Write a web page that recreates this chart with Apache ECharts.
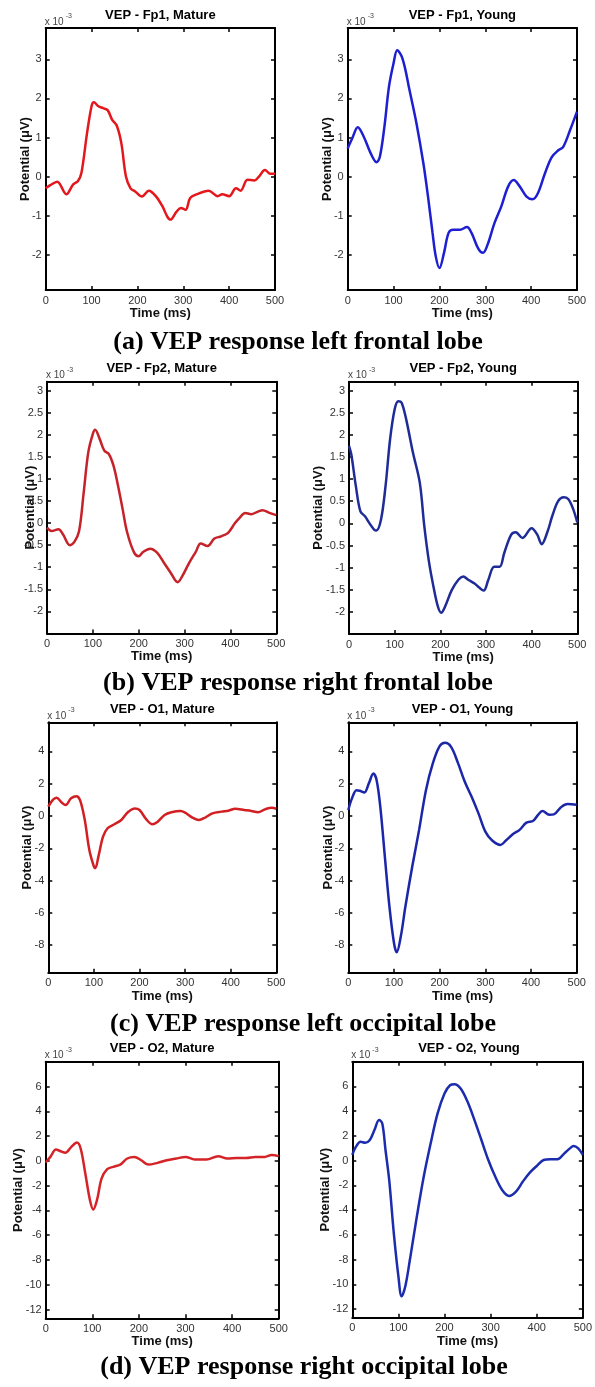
<!DOCTYPE html>
<html>
<head>
<meta charset="utf-8">
<script src="https://cdn.jsdelivr.net/npm/echarts@6/dist/echarts.min.js"></script>
<style>
html,body{margin:0;padding:0;background:#fff;}
#chart{width:595px;height:1387px;}
</style>
</head>
<body>
<div id="chart"></div>
<script>
// ---------- data (values in units of 1e-3 µV as labelled on the axes) ----------
const xTicks = [0, 100, 200, 300, 400, 500];
const yTicksFp1 = [-2, -1, 0, 1, 2, 3];
const yTicksFp2 = [-2, -1.5, -1, -0.5, 0, 0.5, 1, 1.5, 2, 2.5, 3];
const yTicksO1 = [-8, -6, -4, -2, 0, 2, 4];
const yTicksO2 = [-12, -10, -8, -6, -4, -2, 0, 2, 4, 6];

const titles = ['VEP - Fp1, Mature', 'VEP - Fp1, Young', 'VEP - Fp2, Mature', 'VEP - Fp2, Young',
                'VEP - O1, Mature', 'VEP - O1, Young', 'VEP - O2, Mature', 'VEP - O2, Young'];
const captions = ['(a) VEP response left frontal lobe', '(b) VEP response right frontal lobe',
                  '(c) VEP response left occipital lobe', '(d) VEP response right occipital lobe'];

const fp1MatureT = [0,10,25,45,60,70,78,90,100,105,115,125,135,145,155,165,175,185,195,210,225,240,255,265,272,285,295,305,315,330,355,375,385,400,415,425,440,455,465,478,490,500];
const fp1MatureV = [-0.30,-0.22,-0.13,-0.45,-0.20,-0.12,0.10,1.10,1.80,1.90,1.80,1.75,1.70,1.45,1.30,0.85,0.00,-0.30,-0.38,-0.51,-0.36,-0.50,-0.77,-1.02,-1.10,-0.90,-0.80,-0.85,-0.55,-0.45,-0.36,-0.50,-0.45,-0.50,-0.30,-0.36,-0.08,-0.10,0.00,0.17,0.07,0.07];

const fp1YoungT = [0,10,22,35,50,63,70,80,90,100,108,120,135,150,165,175,185,192,200,210,220,230,245,260,270,285,295,305,320,335,350,362,375,390,403,415,430,445,460,470,485,500];
const fp1YoungV = [0.72,0.98,1.26,1.02,0.60,0.37,0.50,1.27,2.30,2.90,3.23,3.00,2.20,1.36,0.34,-0.50,-1.44,-2.04,-2.34,-1.95,-1.44,-1.36,-1.36,-1.29,-1.44,-1.85,-1.95,-1.74,-1.19,-0.76,-0.25,-0.09,-0.25,-0.51,-0.58,-0.42,0.08,0.50,0.68,0.76,1.19,1.66];

const fp2MatureT = [0,10,25,35,50,60,70,80,90,100,105,115,125,135,145,155,165,175,190,200,210,225,240,255,270,285,295,310,325,335,350,365,380,395,410,420,432,445,460,470,485,500];
const fp2MatureV = [-0.10,-0.18,-0.14,-0.26,-0.50,-0.42,-0.18,0.69,1.60,2.02,2.11,1.90,1.64,1.56,1.30,0.84,0.31,-0.22,-0.67,-0.75,-0.65,-0.58,-0.67,-0.90,-1.13,-1.34,-1.20,-0.90,-0.64,-0.46,-0.52,-0.35,-0.30,-0.22,0.00,0.12,0.23,0.20,0.26,0.29,0.23,0.18];

const fp2YoungT = [0,5,15,25,35,45,55,60,70,80,90,100,108,115,125,140,155,165,175,185,195,202,210,225,240,250,262,275,285,295,305,318,330,340,355,365,380,400,412,422,435,445,458,470,480,490,500];
const fp2YoungV = [1.75,1.56,0.84,0.27,0.16,0.00,-0.14,-0.16,0.08,0.84,1.90,2.58,2.76,2.73,2.36,1.60,0.92,-0.07,-0.86,-1.43,-1.89,-2.02,-1.89,-1.51,-1.27,-1.20,-1.28,-1.36,-1.45,-1.52,-1.28,-0.98,-0.98,-0.67,-0.26,-0.20,-0.33,-0.11,-0.25,-0.47,-0.18,0.16,0.50,0.59,0.55,0.35,0.02];

const o1MatureT = [0,10,18,30,38,50,62,70,80,90,100,103,110,120,130,145,160,175,190,200,215,228,240,255,270,290,300,315,330,345,360,380,395,410,430,445,460,475,490,500];
const o1MatureV = [0.58,1.00,1.13,0.82,0.68,1.10,1.23,0.95,-0.25,-2.10,-3.13,-3.23,-2.50,-1.28,-0.76,-0.51,-0.25,0.25,0.47,0.37,-0.21,-0.51,-0.35,0.06,0.23,0.31,0.21,-0.08,-0.25,-0.08,0.16,0.27,0.33,0.45,0.37,0.31,0.23,0.41,0.51,0.45];

const o1YoungT = [0,8,18,25,35,45,55,62,70,80,90,100,106,115,125,140,155,170,185,200,212,225,240,255,270,285,300,315,333,345,360,375,390,405,415,425,440,450,465,480,500];
const o1YoungV = [0.37,1.09,1.60,1.56,1.46,2.02,2.63,2.22,0.58,-2.51,-5.60,-7.86,-8.44,-7.45,-5.60,-3.13,-0.86,1.60,3.25,4.32,4.53,4.28,3.29,2.12,1.19,0.16,-0.97,-1.52,-1.79,-1.52,-1.13,-0.86,-0.41,-0.29,0.06,0.31,0.08,0.10,0.53,0.74,0.70];

const o2MatureT = [0,10,22,32,42,55,67,75,85,95,102,110,120,132,145,160,175,190,205,220,240,260,280,300,320,345,370,390,410,430,450,470,485,500];
const o2MatureV = [-0.13,0.32,0.91,0.78,0.65,1.13,1.48,1.00,-1.02,-3.17,-3.92,-3.17,-1.42,-0.67,-0.48,-0.30,0.19,0.32,0.05,-0.30,-0.16,0.05,0.19,0.32,0.11,0.11,0.38,0.19,0.24,0.24,0.32,0.32,0.48,0.38];

const o2YoungT = [0,8,18,28,38,48,58,65,72,80,90,100,107,115,125,140,155,170,185,200,212,222,235,250,265,280,295,310,325,340,355,370,385,400,415,430,445,460,472,480,490,500];
const o2YoungV = [0.46,1.13,1.53,1.45,1.67,2.47,3.28,3.01,0.86,-1.56,-5.86,-9.36,-10.97,-10.16,-8.00,-4.52,-1.29,1.40,3.82,5.43,6.10,6.18,5.83,4.76,3.28,1.67,0.05,-1.29,-2.37,-2.85,-2.50,-1.69,-0.97,-0.43,0.05,0.11,0.11,0.59,0.99,1.18,0.99,0.46];

// ---------- layout / style ----------
const SANS = 'Liberation Sans, Arial, Helvetica, sans-serif';
const SERIF = 'Liberation Serif, Times New Roman, serif';

const panels = [
  {left:45.7, top:28,    w:229.3, h:262,   ymin:-2.9,  ymax:3.8, ticks:yTicksFp1, t:fp1MatureT, v:fp1MatureV, color:'#e3171c', gap:13.7},
  {left:347.7,top:28,    w:229.3, h:262,   ymin:-2.9,  ymax:3.8, ticks:yTicksFp1, t:fp1YoungT,  v:fp1YoungV,  color:'#1d1fd0', gap:14},
  {left:47,   top:381.7, w:229.3, h:251.8, ymin:-2.5,  ymax:3.2, ticks:yTicksFp2, t:fp2MatureT, v:fp2MatureV, color:'#c6222a', gap:10},
  {left:349,  top:381.7, w:228.3, h:252.3, ymin:-2.5,  ymax:3.2, ticks:yTicksFp2, t:fp2YoungT,  v:fp2YoungV,  color:'#1f2c98', gap:23.7},
  {left:48.3, top:722.3, w:228,   h:250.4, ymin:-9.7,  ymax:5.8, ticks:yTicksO1,  t:o1MatureT,  v:o1MatureV,  color:'#d21f23', gap:14.6},
  {left:348.3,top:722.3, w:228.4, h:250.4, ymin:-9.7,  ymax:5.8, ticks:yTicksO1,  t:o1YoungT,   v:o1YoungV,   color:'#1b26a8', gap:13},
  {left:45.7, top:1061.7,w:233,   h:256.6, ymin:-12.7, ymax:8,   ticks:yTicksO2,  t:o2MatureT,  v:o2MatureV,  color:'#d42427', gap:20.4},
  {left:352.3,top:1061.7,w:233.4, h:256,   ymin:-12.7, ymax:8,   ticks:yTicksO2,  t:o2YoungT,   v:o2YoungV,   color:'#1c2cae', gap:20.3}
];
const captionPos = [{x:298, y:342}, {x:298, y:683}, {x:303, y:1024}, {x:304, y:1367}];

const grids = [], xAxes = [], yAxes = [], series = [], graphics = [];
const lineStyleAxis = {color:'#000', width:2};

panels.forEach((p, i) => {
  grids.push({left:p.left, top:p.top, width:p.w, height:p.h, containLabel:false});
  // bottom x axis
  xAxes.push({
    type:'value', gridIndex:i, position:'bottom', min:0, max:500, interval:100,
    axisLine:{show:true, onZero:false, lineStyle:lineStyleAxis},
    axisTick:{show:true, inside:true, length:4, lineStyle:{color:'#000', width:1.5}},
    axisLabel:{show:true, margin:5, color:'#333', fontSize:11, fontFamily:SANS, customValues:xTicks},
    splitLine:{show:false},
    name:'Time (ms)', nameLocation:'middle', nameGap:15,
    nameTextStyle:{color:'#111', fontSize:13, fontWeight:'bold', fontFamily:SANS}
  });
  // top x axis (box)
  xAxes.push({
    type:'value', gridIndex:i, position:'top', min:0, max:500, interval:100,
    axisLine:{show:true, onZero:false, lineStyle:lineStyleAxis},
    axisTick:{show:true, inside:true, length:4, lineStyle:{color:'#000', width:1.5}},
    axisLabel:{show:false}, splitLine:{show:false}
  });
  // left y axis
  yAxes.push({
    type:'value', gridIndex:i, position:'left', min:p.ymin, max:p.ymax,
    axisLine:{show:true, onZero:false, lineStyle:lineStyleAxis},
    axisTick:{show:true, inside:true, length:4, lineStyle:{color:'#000', width:1.5}, customValues:p.ticks},
    axisLabel:{show:true, margin:4, color:'#333', fontSize:11, fontFamily:SANS, customValues:p.ticks},
    splitLine:{show:false},
    name:'Potential (\u03BCV)', nameLocation:'middle', nameRotate:90, nameGap:p.gap,
    nameMoveOverlap:false,
    nameTextStyle:{color:'#111', fontSize:13, fontWeight:'bold', fontFamily:SANS}
  });
  // right y axis (box)
  yAxes.push({
    type:'value', gridIndex:i, position:'right', min:p.ymin, max:p.ymax,
    axisLine:{show:true, onZero:false, lineStyle:lineStyleAxis},
    axisTick:{show:true, inside:true, length:4, lineStyle:{color:'#000', width:1.5}, customValues:p.ticks},
    axisLabel:{show:false}, splitLine:{show:false}
  });
  series.push({
    type:'line', xAxisIndex:2*i, yAxisIndex:2*i,
    data:p.t.map((x, k) => [x, p.v[k]]),
    smooth:0.35, showSymbol:false, symbol:'none', clip:true,
    lineStyle:{color:p.color, width:2.5}, z:3, silent:true
  });
  // subplot title
  graphics.push({type:'text', style:{text:titles[i], x:p.left + p.w/2, y:p.top - 13,
    textAlign:'center', textVerticalAlign:'middle', fill:'#000',
    font:'bold 13px ' + SANS}});
  // exponent label
  graphics.push({type:'text', style:{text:'x 10', x:p.left - 1, y:p.top - 6,
    textAlign:'left', textVerticalAlign:'middle', fill:'#444', font:'10px ' + SANS}});
  graphics.push({type:'text', style:{text:'-3', x:p.left + 20, y:p.top - 12,
    textAlign:'left', textVerticalAlign:'middle', fill:'#444', font:'7px ' + SANS}});
});

captions.forEach((c, k) => {
  graphics.push({type:'text', style:{text:c, x:captionPos[k].x, y:captionPos[k].y,
    textAlign:'center', textVerticalAlign:'middle', fill:'#000',
    font:'bold 26px ' + SERIF}});
});

const chart = echarts.init(document.getElementById('chart'), null, {renderer:'canvas', width:595, height:1387});
chart.setOption({
  backgroundColor:'#ffffff',
  animation:false,
  grid:grids, xAxis:xAxes, yAxis:yAxes, series:series,
  graphic:graphics
});
</script>
</body>
</html>
